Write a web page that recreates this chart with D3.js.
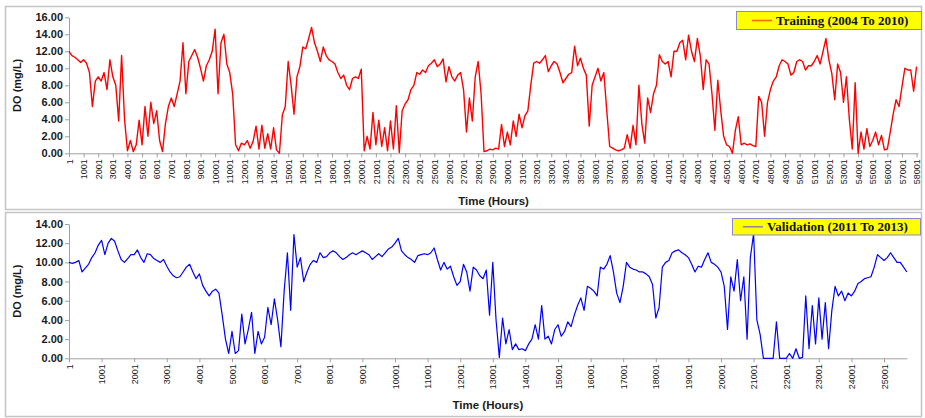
<!DOCTYPE html>
<html>
<head>
<meta charset="utf-8">
<script src="https://cdn.jsdelivr.net/npm/d3@7/dist/d3.min.js"></script>
<style>
  html, body { margin: 0; padding: 0; background: #fff; }
  svg { display: block; }
</style>
</head>
<body>
<svg id="chart" width="925" height="418"></svg>
<script>
// Dissolved oxygen, hourly record. Training values sampled every 200 h, validation every 100 h.
const trainStep = 200;
const trainDO = [
  12.0, 11.5, 11.3, 11.0, 10.7,   11.0, 10.6, 9.5, 5.5, 8.5,
  9.0, 8.5, 9.5, 7.5, 11.0,       9.0, 8.0, 3.8, 11.5, 4.0,
  0.3, 1.5, 0.2, 1.0, 3.9,        1.0, 5.5, 2.0, 6.0, 3.5,
  5.0, 1.5, 0.2, 3.5, 5.5,        6.5, 5.5, 7.0, 8.5, 13.0,
  7.0, 10.8, 11.5, 12.2, 11.3,    10.0, 8.5, 10.3, 11.0, 12.0,
  14.6, 7.0, 13.0, 14.0, 10.5,    9.5, 7.0, 1.0, 0.3, 1.2,
  1.0, 1.5, 0.6, 1.4, 3.2,        0.5, 3.3, 0.6, 2.3, 0.5,
  3.0, 0.4, 0.0, 4.5, 5.5,        10.8, 8.0, 4.6, 9.0, 10.2,
  12.5, 12.3, 13.5, 14.8, 13.0,   12.0, 10.8, 12.5, 11.5, 11.0,
  10.8, 10.5, 9.5, 8.8, 9.2,      8.0, 7.5, 8.8, 9.0, 8.8,
  9.9, 0.3, 2.0, 0.5, 4.8,        1.0, 3.9, 0.8, 3.0, 0.3,
  3.8, 0.5, 5.6, 0.1, 5.0,        5.8, 6.3, 7.5, 8.0, 9.5,
  9.3, 9.8, 9.5, 10.3, 10.6,      11.0, 10.2, 10.5, 11.1, 8.4,
  10.2, 9.0, 8.5, 9.2, 9.5,       7.5, 2.5, 6.5, 3.8, 9.0,
  10.8, 7.0, 0.2, 0.3, 0.5,       0.4, 0.6, 0.5, 3.4, 0.8,
  2.5, 1.0, 3.8, 2.0, 4.6,        3.0, 4.4, 5.0, 8.0, 10.6,
  10.8, 10.6, 11.0, 11.5, 9.6,    10.3, 10.8, 10.5, 9.5, 8.3,
  8.8, 9.3, 9.5, 12.6, 10.3,      11.2, 10.0, 9.2, 3.2, 8.0,
  9.0, 10.0, 8.5, 9.5, 5.0,       0.8, 0.6, 0.4, 0.3, 0.4,
  0.6, 2.2, 0.6, 3.3, 1.0,        8.0, 3.5, 1.2, 6.5, 4.8,
  7.0, 8.0, 11.6, 10.8, 10.5,     10.8, 9.0, 12.0, 12.0, 13.0,
  13.3, 11.0, 13.9, 12.0, 10.8,   13.5, 11.5, 7.5, 11.0, 10.5,
  7.0, 2.7, 8.6, 5.0, 2.0,        1.0, 0.8, 0.0, 2.7, 4.3,
  1.0, 1.2, 1.0, 1.1, 0.9,        0.8, 6.7, 6.0, 2.0, 6.0,
  7.5, 8.5, 9.0, 10.3, 11.0,      10.8, 10.5, 9.2, 9.5, 10.8,
  11.0, 10.8, 9.8, 10.3, 10.3,    10.8, 11.5, 10.5, 12.0, 13.5,
  11.0, 9.4, 6.3, 10.5, 9.5,      6.0, 9.0, 4.0, 0.5, 8.3,
  0.0, 2.5, 0.5, 2.9, 0.8,        1.5, 2.5, 1.0, 2.1, 0.4,
  0.5, 2.5, 4.6, 6.3, 5.5,        7.8, 10.0, 9.8, 9.8, 7.3,
  10.2
];

const validStep = 100;
const validDO = [
  10.0, 9.9, 10.0, 10.2, 9.0, 9.4, 9.8, 10.5, 11.0, 11.8,
  12.3, 10.8, 12.0, 12.5, 12.2, 11.2, 10.3, 10.0, 10.4, 10.8,
  10.8, 11.3, 10.5, 10.0, 10.9, 10.8, 10.4, 10.2, 10.0, 10.3,
  9.6, 9.0, 8.6, 8.4, 8.5, 9.0, 9.5, 9.8, 9.0, 8.3,
  8.8, 7.6, 7.0, 6.5, 7.0, 7.2, 6.8, 4.5, 2.0, 0.5,
  2.8, 0.5, 0.8, 4.6, 1.5, 3.0, 4.8, 0.5, 2.8, 1.5,
  2.2, 5.3, 3.5, 6.2, 4.0, 1.2, 7.0, 11.0, 5.0, 12.9,
  9.5, 10.5, 8.0, 9.0, 9.8, 10.2, 10.0, 11.0, 10.5, 10.6,
  11.0, 11.2, 11.0, 10.6, 10.3, 10.5, 10.8, 11.0, 10.8, 11.0,
  11.2, 11.0, 10.8, 10.3, 10.6, 10.9, 10.6, 11.0, 11.4, 11.6,
  12.0, 12.5, 11.2, 10.8, 10.5, 10.3, 10.0, 10.7, 10.8, 10.9,
  10.8, 11.0, 11.5, 10.3, 9.2, 10.0, 9.3, 9.6, 8.5, 7.6,
  8.0, 9.8, 9.0, 7.0, 9.5, 9.2, 8.6, 8.3, 9.2, 4.5,
  10.0, 4.0, 0.1, 4.2, 1.5, 3.0, 0.9, 1.5, 0.9, 1.0,
  0.8, 1.5, 2.0, 3.5, 2.0, 5.5, 2.0, 2.3, 1.5, 3.0,
  3.5, 2.3, 2.8, 3.8, 3.3, 4.5, 5.5, 6.3, 5.0, 7.5,
  7.3, 7.0, 6.5, 9.5, 9.3, 9.8, 10.7, 9.0, 6.8, 5.8,
  7.5, 10.0, 9.5, 9.3, 9.2, 9.0, 9.0, 8.8, 8.5, 7.7,
  4.2, 5.3, 9.5, 10.0, 10.2, 11.0, 11.2, 11.3, 11.0, 10.8,
  10.5, 9.8, 9.0, 9.6, 9.5, 10.3, 11.0, 10.0, 9.8, 9.5,
  9.0, 7.5, 3.0, 8.5, 7.0, 10.3, 6.0, 8.5, 2.0, 10.5,
  13.0, 4.0, 2.5, 0.0, 0.0, 0.0, 0.0, 3.8, 0.0, 0.0,
  0.0, 0.5, 0.0, 1.0, 0.0, 0.1, 6.5, 1.0, 5.5, 1.5,
  6.3, 2.0, 5.8, 1.0, 5.0, 7.5, 6.5, 7.0, 6.0, 6.8,
  6.5, 7.0, 7.8, 8.0, 8.3, 8.4, 8.5, 9.5, 10.8, 10.5,
  10.2, 10.5, 11.0, 10.5, 10.0, 10.0, 9.5, 9.0
];

// Axis ticks and labels
const trainHourTicks = d3.range(1, 58002, 1000);
const validHourTicks = d3.range(1, 25002, 1000);
const trainDOTicks = [0, 2, 4, 6, 8, 10, 12, 14, 16];
const validDOTicks = [0, 2, 4, 6, 8, 10, 12, 14];
const trainLabel = "Training (2004 To 2010)";
const validLabel = "Validation (2011 To 2013)";
const xTitle = "Time (Hours)";
const yTitle = "DO (mg/L)";

const svg = d3.select("#chart");
const sans = "'Liberation Sans', Arial, sans-serif";
const serif = "'Liberation Serif', 'Times New Roman', serif";

function panel(cfg) {
  const g = svg.append("g");
  // frame
  g.append("rect")
    .attr("x", cfg.frame[0] + 0.5).attr("y", cfg.frame[1] + 0.5)
    .attr("width", cfg.frame[2]).attr("height", cfg.frame[3])
    .attr("fill", "#fff").attr("stroke", "#c4c4c4").attr("stroke-width", 1.5);

  const pts = cfg.values.map((v, i) => ({ h: i * cfg.step + 1, v }));
  const x = d3.scaleLinear().domain([1, cfg.xEnd]).range([cfg.left, cfg.right]);
  const y = d3.scaleLinear().domain([0, cfg.yMax]).range([cfg.bottom, cfg.top]);

  // y axis
  const ya = g.append("g").attr("transform", `translate(${cfg.left},0)`)
    .call(d3.axisLeft(y).tickValues(cfg.yTicks).tickFormat(d3.format(".2f"))
      .tickSize(4).tickSizeOuter(0));
  ya.select(".domain").attr("stroke", "#a0a0a0");
  ya.selectAll(".tick line").attr("stroke", "#a0a0a0");
  ya.selectAll(".tick text").attr("font-family", sans).attr("font-size", 11)
    .attr("font-weight", "bold").attr("fill", "#1a1a1a").attr("x", -6);

  // x axis
  const xa = g.append("g").attr("transform", `translate(0,${cfg.bottom})`)
    .call(d3.axisBottom(x).tickValues(cfg.xTicks).tickFormat(d3.format("d"))
      .tickSize(4).tickSizeOuter(0));
  xa.select(".domain").attr("stroke", "#a0a0a0");
  xa.selectAll(".tick line").attr("stroke", "#a0a0a0");
  xa.selectAll(".tick text")
    .attr("font-family", sans).attr("font-size", 9).attr("fill", "#1a1a1a")
    .attr("transform", "rotate(-90)")
    .attr("text-anchor", "end")
    .attr("x", -6).attr("y", 0).attr("dy", "0.35em");

  // series
  g.append("path").datum(pts)
    .attr("fill", "none").attr("stroke", cfg.color).attr("stroke-width", cfg.width)
    .attr("stroke-linejoin", "round")
    .attr("d", d3.line().x(d => x(d.h)).y(d => y(d.v)));

  // titles
  g.append("text").attr("x", (cfg.left + cfg.right) / 2).attr("y", cfg.xTitleY)
    .attr("text-anchor", "middle").attr("font-family", sans).attr("font-size", 11.5)
    .attr("font-weight", "bold").attr("fill", "#1a1a1a").text(xTitle);
  g.append("text")
    .attr("transform", `translate(21,${(cfg.top + cfg.bottom) / 2}) rotate(-90)`)
    .attr("text-anchor", "middle").attr("font-family", sans).attr("font-size", 11)
    .attr("font-weight", "bold").attr("fill", "#1a1a1a").text(yTitle);

  // legend
  const lg = g.append("g").attr("transform", `translate(${cfg.legend[0]},${cfg.legend[1]})`);
  lg.append("rect").attr("x", 0.5).attr("y", 0.5)
    .attr("width", cfg.legend[2]).attr("height", cfg.legend[3])
    .attr("fill", "#ffff00").attr("stroke", "#8a8ac8").attr("stroke-width", 1);
  lg.append("line").attr("x1", cfg.swatchX).attr("x2", cfg.swatchX + 20)
    .attr("y1", cfg.legend[3] / 2 + 0.5).attr("y2", cfg.legend[3] / 2 + 0.5)
    .attr("stroke", cfg.legendSwatch).attr("stroke-width", 1.6);
  lg.append("text").attr("x", cfg.swatchX + 24).attr("y", cfg.legend[3] / 2 + 5)
    .attr("font-family", serif).attr("font-size", 13).attr("font-weight", "bold")
    .attr("fill", "#111").text(cfg.label);
}

panel({
  frame: [5, 6, 916, 203],
  values: trainDO, step: trainStep, xEnd: 58100, xTicks: trainHourTicks,
  yMax: 16, yTicks: trainDOTicks,
  left: 69, right: 918, top: 17.3, bottom: 153.3,
  color: "#ff0000", width: 1.4, legendSwatch: "#ff6a00", label: trainLabel,
  legend: [736, 11, 185, 18], swatchX: 16, xTitleY: 205
});

panel({
  frame: [5, 212, 916, 204],
  values: validDO, step: validStep, xEnd: 25700, xTicks: validHourTicks,
  yMax: 14, yTicks: validDOTicks,
  left: 69, right: 906.8, top: 224, bottom: 358.3,
  color: "#0000ff", width: 1.2, legendSwatch: "#8c8c8c", label: validLabel,
  legend: [732, 218, 188, 16.5], swatchX: 11, xTitleY: 409
});
</script>
</body>
</html>
